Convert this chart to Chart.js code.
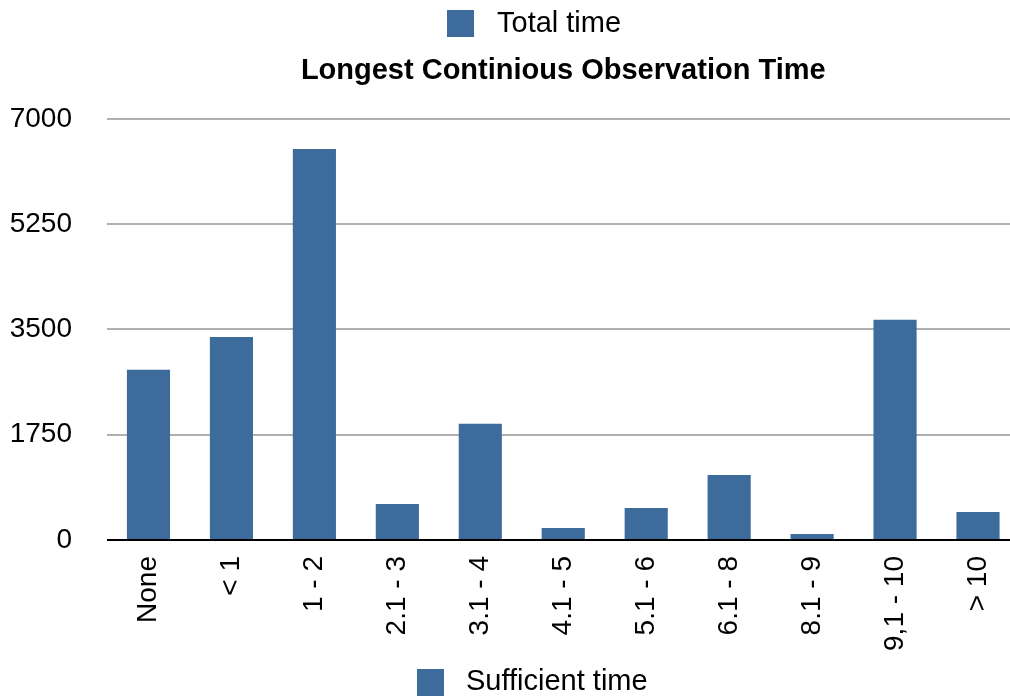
<!DOCTYPE html>
<html>
<head>
<meta charset="utf-8">
<title>Longest Continious Observation Time</title>
<script src="https://cdn.jsdelivr.net/npm/chart.js@4.4.1/dist/chart.umd.min.js"></script>
<style>
  html, body { margin:0; padding:0; background:#fff; overflow:hidden; }
  #wrap { width:1028px; height:698px; }
</style>
</head>
<body>
<div id="wrap"><canvas id="obsChart" width="1028" height="698"></canvas></div>
<script>
/* data */
const categories = ['None', '< 1', '1 - 2', '2.1 - 3', '3.1 - 4', '4.1 - 5', '5.1 - 6', '6.1 - 8', '8.1 - 9', '9,1 - 10', '> 10'];
const totalTime = [2830, 3375, 6500, 600, 1930, 200, 530, 1080, 100, 3660, 465];
const sufficientTime = [null, null, null, null, null, null, null, null, null, null, null]; // no visible bars
const yTicks = [0, 1750, 3500, 5250, 7000];
const seriesNames = ['Total time', 'Sufficient time'];

const FONT = '"Liberation Sans", Helvetica, Arial, sans-serif';
const BAR_BLUE = '#3c6b9c';

/* two separate legends: one above the title, one below the axis labels */
const legendSpots = [
  { box:[447, 10, 27, 27], textX:497, textY:24 },
  { box:[417, 669, 27, 27], textX:466, textY:682 }
];

const splitLegend = {
  id: 'splitLegend',
  afterDraw(chart) {
    const ctx = chart.ctx;
    chart.data.datasets.forEach((ds, i) => {
      const s = legendSpots[i];
      if (!s) return;
      ctx.save();
      ctx.fillStyle = ds.backgroundColor;
      ctx.fillRect(s.box[0], s.box[1], s.box[2], s.box[3]);
      ctx.fillStyle = '#000';
      ctx.font = '29px ' + FONT;
      ctx.textAlign = 'left';
      ctx.textBaseline = 'middle';
      ctx.fillText(ds.label, s.textX, s.textY);
      ctx.restore();
    });
  }
};

new Chart(document.getElementById('obsChart'), {
  type: 'bar',
  data: {
    labels: categories,
    datasets: [
      { label: seriesNames[0], data: totalTime, backgroundColor: BAR_BLUE, skipNull: true },
      { label: seriesNames[1], data: sufficientTime, backgroundColor: BAR_BLUE, skipNull: true }
    ]
  },
  options: {
    responsive: false,
    animation: false,
    devicePixelRatio: 1,
    layout: { padding: { top: 46, bottom: 40, left: 0, right: 2 } },
    datasets: { bar: { categoryPercentage: 1, barPercentage: 0.52 } },
    plugins: {
      legend: { display: false },
      tooltip: { enabled: false },
      title: {
        display: true,
        text: 'Longest Continious Observation Time',
        color: '#000',
        fullSize: false,
        font: { family: FONT, size: 29, weight: 'bold' },
        padding: { top: 8, bottom: 30 }
      }
    },
    scales: {
      x: {
        grid: { display: false, drawTicks: false },
        border: { display: false },
        ticks: {
          color: '#000',
          font: { family: FONT, size: 28 },
          minRotation: 90, maxRotation: 90,
          autoSkip: false,
          padding: 16
        },
        afterFit(scale) { scale.height = 118; }
      },
      y: {
        min: 0, max: 7000,
        border: { display: false },
        grid: {
          drawTicks: false,
          color: c => c.tick && c.tick.value === 0 ? '#000' : '#b0b0b0',
          lineWidth: 2
        },
        afterBuildTicks(scale) { scale.ticks = yTicks.map(v => ({ value: v })); },
        ticks: {
          color: '#000',
          font: { family: FONT, size: 28 },
          padding: 35,
          callback: v => String(v)
        },
        afterFit(scale) { scale.width = 107; }
      }
    }
  },
  plugins: [splitLegend]
});
</script>
</body>
</html>
